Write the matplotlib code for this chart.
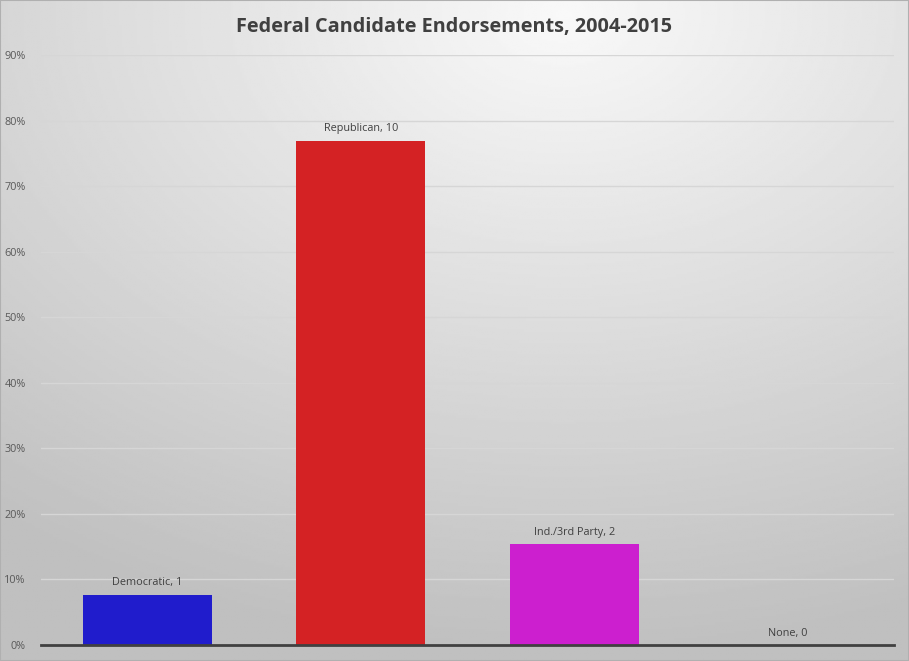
import numpy as np
import matplotlib
matplotlib.use('Agg')
import matplotlib.pyplot as plt
from matplotlib.ticker import PercentFormatter

# Endorsement counts by party
parties = ['Democratic', 'Republican', 'Ind./3rd Party', 'None']
counts = [1, 10, 2, 0]
colors = ['#201ccc', '#d42224', '#cc1fcf', '#888888']

total = sum(counts)
shares = [c / total for c in counts]

fig = plt.figure(figsize=(9.09, 6.61), dpi=100)

# radial grey gradient background
bg = fig.add_axes([0, 0, 1, 1], zorder=0)
yy, xx = np.mgrid[0:1:300j, 0:1:400j]
r = np.sqrt(((xx - 0.62) * 1.0) ** 2 + ((yy - 0.02) * 1.05) ** 2)
shade = np.clip(0.975 - 0.22 * r, 0.75, 0.98)
bg.imshow(shade, cmap='gray', vmin=0, vmax=1, extent=[0, 1, 1, 0], aspect='auto')
bg.set_xlim(0, 1)
bg.set_ylim(1, 0)
bg.axis('off')
fig.patches.append(plt.Rectangle((0, 0), 1, 1, transform=fig.transFigure,
                                 fill=False, edgecolor='#b0b0b0', lw=1.5, zorder=5))

ax = fig.add_axes([41 / 909, 16 / 661, 853 / 909, 590 / 661], zorder=1)
ax.patch.set_alpha(0)

x = np.arange(len(parties))
ax.bar(x, shares, width=0.605, color=colors, zorder=3)

for xi, p, c, s in zip(x, parties, counts, shares):
    ax.annotate(f'{p}, {c}', (xi, s), xytext=(0, 4.5), textcoords='offset points',
                ha='center', va='bottom', fontsize=7.8, color='#404040',
                family='Open Sans')

ax.set_xlim(-0.5, len(parties) - 0.5)
ax.set_ylim(0, 0.9)
ax.set_yticks(np.arange(0, 0.91, 0.1))
ax.yaxis.set_major_formatter(PercentFormatter(1.0, decimals=0))
ax.set_xticks([])
ax.grid(axis='y', color='#d6d6d6', lw=1, zorder=0)
ax.tick_params(axis='y', length=0, labelsize=7.8, labelcolor='#595959', pad=11)
for lbl in ax.get_yticklabels():
    lbl.set_family('Open Sans')
for s in ['left', 'right', 'top']:
    ax.spines[s].set_visible(False)
ax.spines['bottom'].set_color('#404040')
ax.spines['bottom'].set_linewidth(2)
ax.spines['bottom'].set_zorder(4)

fig.text(0.5, 1 - 27 / 661, 'Federal Candidate Endorsements, 2004-2015',
         ha='center', va='center', fontsize=14.3, fontweight='bold',
         color='#404040', family='Open Sans')

fig.savefig('out.png', dpi=100)
